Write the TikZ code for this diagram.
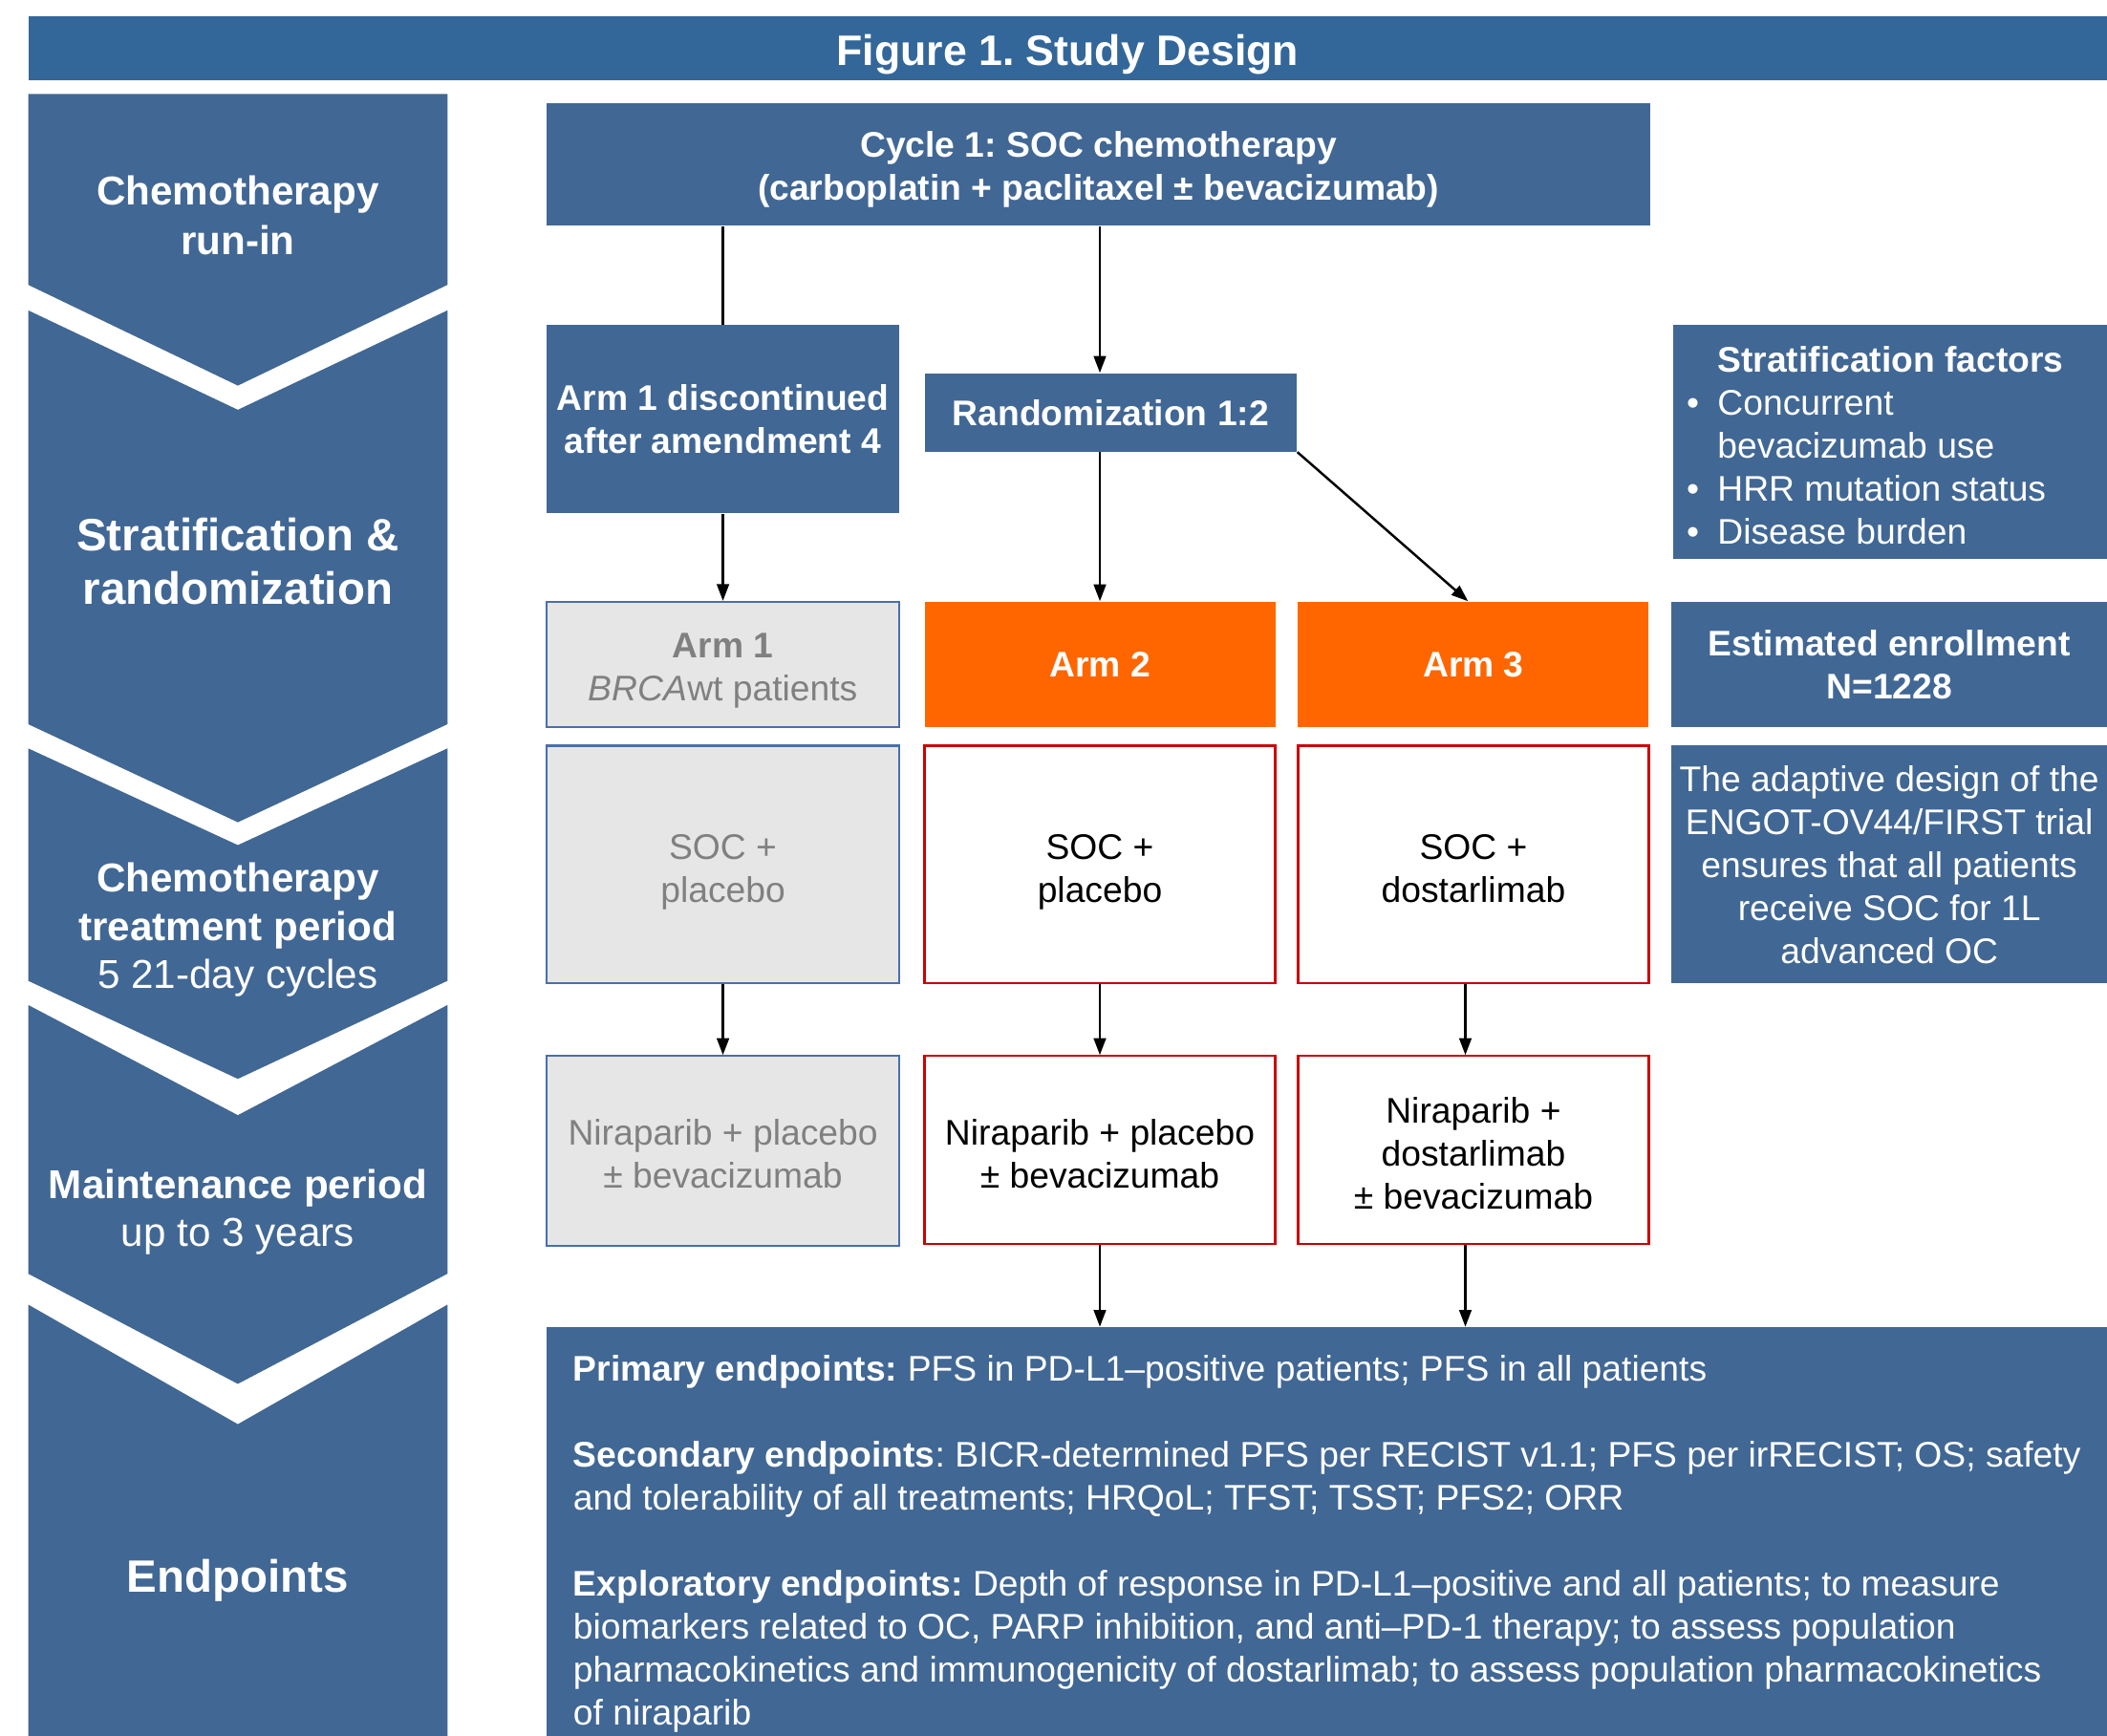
\documentclass[tikz,border=0pt]{standalone}
\usepackage{fontspec}
\setmainfont{Liberation Sans}
\usepackage{tikz}
\usetikzlibrary{arrows.meta,positioning,calc}

\definecolor{titleblue}{RGB}{52,103,153}
\definecolor{boxblue}{RGB}{65,103,148}
\definecolor{armorange}{RGB}{255,102,0}
\definecolor{armgray}{RGB}{230,230,230}
\definecolor{graytext}{RGB}{128,128,128}
\definecolor{grayedge}{RGB}{72,112,170}
\definecolor{armred}{RGB}{204,0,0}

\newcommand{\upx}{0.140625mm}
\newcommand{\boxfont}{\fontsize{10.6}{12.8}\selectfont}
% extra room above a first line, to set it lower in its box
\newcommand{\headroom}[1]{\rule{0pt}{#1}}
\frenchspacing

\begin{document}
\begin{tikzpicture}[x=0.140625mm, y=-0.140625mm,
    bluebox/.style={fill=boxblue, text=white, font=\boxfont\bfseries, align=center, inner sep=0pt},
    greybox/.style={fill=armgray, draw=grayedge, line width=0.6pt, text=graytext, font=\boxfont, align=center, inner sep=0pt},
    redbox/.style={fill=white, draw=armred, line width=0.6pt, font=\boxfont, align=center, inner sep=0pt},
    armbox/.style={fill=armorange, text=white, font=\boxfont\bfseries, inner sep=0pt},
    chevron/.style={fill=boxblue},
    phase/.style={text=white, align=center, inner sep=0pt},
    arr/.style={-{Triangle[length=5pt,width=3.6pt]}, line width=0.7pt},
    link/.style={line width=0.7pt}]
    \useasboundingbox (0,0) rectangle (1568,1292);

    \node[fill=titleblue, text=white, font=\fontsize{12.7}{15}\selectfont\bfseries, minimum width=1547*\upx,
        minimum height=48*\upx, inner sep=0pt] (title) at (794.5,36) {\headroom{1em}Figure 1. Study Design\rule[-0.212em]{0pt}{0pt}};

    % Phase chevrons
    \fill[chevron] (21,70) -- (333,70) -- (333,212) -- (177,287) -- (21,212) -- cycle;
    \fill[chevron] (21,231) -- (177,305) -- (333,231) -- (333,539) -- (177,612) -- (21,539) -- cycle;
    \fill[chevron] (21,557) -- (177,629) -- (333,557) -- (333,730) -- (177,803) -- (21,730) -- cycle;
    \fill[chevron] (21,748) -- (177,830) -- (333,748) -- (333,948) -- (177,1030) -- (21,948) -- cycle;
    \fill[chevron] (21,971) -- (177,1060) -- (333,971) -- (333,1292) -- (21,1292) -- cycle;

    \node[phase, font=\fontsize{12}{14.75}\selectfont\bfseries] (runin) at (177,160) {Chemotherapy\\run-in};
    \node[phase, font=\fontsize{13.5}{16}\selectfont\bfseries] (stratrand) at (177,418) {Stratification \&\\randomization};
    \node[phase, font=\fontsize{12}{14.4}\selectfont] (chemo) at (177,692) {\textbf{Chemotherapy}\\\textbf{treatment period}\\5 21-day cycles};
    \node[phase, font=\fontsize{12}{14.4}\selectfont] (maint) at (177,902) {\textbf{Maintenance period}\\up to 3 years};
    \node[phase, font=\fontsize{13.5}{16}\selectfont\bfseries] (endlabel) at (177,1176) {Endpoints};

    % Run-in and randomization
    \node[bluebox, minimum width=821*\upx, minimum height=91*\upx] (cycle) at (817.5,122.5)
        {\headroom{1em}Cycle 1: SOC chemotherapy\\(carboplatin + paclitaxel ± bevacizumab)};
    \node[bluebox, minimum width=262*\upx, minimum height=140*\upx] (disc) at (538,312)
        {Arm 1 discontinued\\after amendment 4};
    \node[bluebox, minimum width=277*\upx, minimum height=58*\upx] (rand) at (826.5,307) {Randomization 1:2};
    \node[bluebox, font=\boxfont, align=left, minimum width=324*\upx, minimum height=174*\upx] (factors) at (1407,329)
        {\headroom{0.92em}\textbf{Stratification factors}\\\llap{\textbullet\hspace{5.5pt}}Concurrent\\bevacizumab use\\\llap{\textbullet\hspace{5.5pt}}HRR mutation status\\\llap{\textbullet\hspace{5.5pt}}Disease burden};

    % Arms
    \node[greybox, minimum width=262*\upx, minimum height=93*\upx] (arm1) at (538,494.5) {\headroom{1.05em}\textbf{Arm 1}\\\textit{BRCA}wt patients};
    \node[armbox, minimum width=261*\upx, minimum height=93*\upx] (arm2) at (818.5,494.5) {Arm 2};
    \node[armbox, minimum width=261*\upx, minimum height=93*\upx] (arm3) at (1096.5,494.5) {Arm 3};
    \node[bluebox, minimum width=324*\upx, minimum height=93*\upx] (enroll) at (1406,494.5) {Estimated enrollment\\N=1228};

    \node[greybox, minimum width=262*\upx, minimum height=177*\upx] (soc1) at (538,643.5) {\headroom{1.1em}SOC +\\placebo};
    \node[redbox, minimum width=261*\upx, minimum height=177*\upx] (soc2) at (818.5,643.5) {\headroom{1.1em}SOC +\\placebo};
    \node[redbox, minimum width=261*\upx, minimum height=177*\upx] (soc3) at (1096.5,643.5) {\headroom{0.9em}SOC +\\dostarlimab};
    \node[bluebox, font=\boxfont, minimum width=324*\upx, minimum height=177*\upx] (adapt) at (1406,643.5)
        {The adaptive design of the\\ENGOT-OV44/FIRST trial\\ensures that all patients\\receive SOC for 1L\\advanced OC};

    \node[greybox, minimum width=262*\upx, minimum height=141*\upx] (nir1) at (538,856.5) {\headroom{0.92em}Niraparib + placebo\\± bevacizumab};
    \node[redbox, minimum width=261*\upx, minimum height=140*\upx] (nir2) at (818.5,856) {\headroom{0.92em}Niraparib + placebo\\± bevacizumab};
    \node[redbox, minimum width=261*\upx, minimum height=140*\upx] (nir3) at (1096.5,856) {\headroom{0.92em}Niraparib +\\dostarlimab\\± bevacizumab};

    % Endpoints (box runs on below the page edge)
    \node[bluebox, font=\boxfont, align=left, minimum width=1161*\upx, minimum height=322*\upx] (endp) at (987.5,1149)
        {\textbf{Primary endpoints:} PFS in PD-L1–positive patients; PFS in all patients\\[12.8pt]
         \textbf{Secondary endpoints}: BICR-determined PFS per RECIST v1.1; PFS per irRECIST; OS; safety\\
         and tolerability of all treatments; HRQoL; TFST; TSST; PFS2; ORR\\[12.8pt]
         \textbf{Exploratory endpoints:} Depth of response in PD-L1–positive and all patients; to measure\\
         biomarkers related to OC, PARP inhibition, and anti–PD-1 therapy; to assess population\\
         pharmacokinetics and immunogenicity of dostarlimab; to assess population pharmacokinetics\\
         of niraparib};

    % Connectors
    \draw[link] (cycle.south -| disc.north) -- (disc.north);
    \draw[arr] (cycle.south -| arm2.north) -- (rand.north -| arm2.north);
    \draw[arr] (disc.south) -- (arm1.north);
    \draw[arr] (rand.south -| arm2.north) -- (arm2.north);
    \draw[arr] (rand.south east) -- ($(arm3.north)+(-4,0)$);
    \draw[arr] (soc1.south) -- (nir1.north);
    \draw[arr] (soc2.south) -- (nir2.north);
    \draw[arr] ($(soc3.south)+(-6,0)$) -- ($(nir3.north)+(-6,0)$);
    \draw[arr] (nir2.south) -- (nir2.south |- endp.north);
    \draw[arr] ($(nir3.south)+(-6,0)$) -- ($(nir3.south |- endp.north)+(-6,0)$);
\end{tikzpicture}
\end{document}
